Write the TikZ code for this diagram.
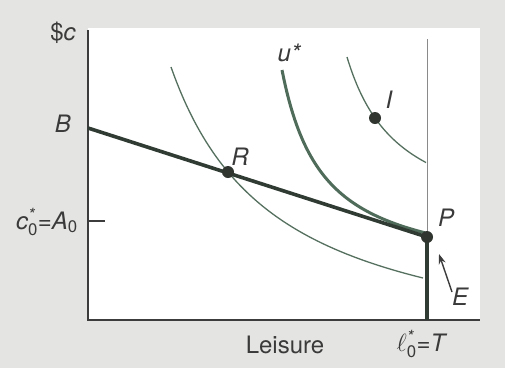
\documentclass[tikz,border=0pt]{standalone}
\usepackage{amsmath}
\usepackage{fontspec}
\setmainfont{TeX Gyre Heros}
\usetikzlibrary{arrows.meta}
\definecolor{bgc}{HTML}{E4E4E2}
\definecolor{axisc}{HTML}{3C3C3C}
\definecolor{budgetc}{HTML}{2F3B33}
\definecolor{ustarc}{HTML}{4F6B59}
\definecolor{curvec}{HTML}{55705F}
\definecolor{vlinec}{HTML}{8A8A8A}
\definecolor{txtc}{HTML}{3A3A3A}
\definecolor{dotc}{HTML}{303530}
\begin{document}
\begin{tikzpicture}[x=1pt,y=-1pt,
  lbl/.style={text=txtc, font=\fontsize{24}{26}\selectfont\itshape, inner sep=0pt},
  uplbl/.style={text=txtc, font=\fontsize{24}{26}\selectfont, inner sep=0pt},
  dotnode/.style={circle, fill=dotc, minimum size=12pt, inner sep=0pt},
  axisline/.style={draw=axisc, line width=2.8pt},
  thincurve/.style={draw=curvec, line width=1.3pt},
  ucurve/.style={draw=ustarc, line width=3pt},
  budget/.style={draw=budgetc, line width=3.6pt}]
\useasboundingbox (0,0) rectangle (505,368);
\fill[bgc] (0,0) rectangle (505,368);
\fill[white] (88,28) rectangle (480,320);
% coordinates
\coordinate (Ytop) at (88,30);
\coordinate (O) at (88,320);
\coordinate (Xend) at (480,320);
\coordinate (A0) at (88,221);
\coordinate (A0t) at (105,221);
\coordinate (B) at (88,128);
\coordinate (P) at (427,237);
\coordinate (Ttop) at (427,39);
\coordinate (T) at (427,320);
\coordinate (Etail) at (452,292);
\coordinate (Ehead) at (439,254);
% vertical thin line
\draw[draw=vlinec, line width=1pt] (Ttop) -- (P);
% indifference curves
\draw[thincurve] plot[domain=171:423, samples=80] (\x, {366.33 - 315.78/((\x-65.5)/100)});
\draw[ucurve] plot[domain=282:425, samples=80] (\x, {368 - 88.3 - 8640/(\x-240.8)});
\draw[thincurve] plot[domain=347:426, samples=60] (\x, {368 - 134.8 - 9321/(\x-294.1)});
% axes
\draw[axisline] (Ytop) -- (O) -- (Xend);
\draw[draw=axisc, line width=1.5pt] (A0) -- (A0t);
% budget
\draw[budget] (B) -- (P) -- (T);
% dots
\node[dotnode] (Rdot) at (228,172) {};
\node[dotnode] (Pdot) at (P) {};
\node[dotnode] (Idot) at (375,118) {};
% arrow
\draw[draw=axisc, line width=1.4pt, -{Stealth[length=10pt,width=7pt]}] (Etail) -- (Ehead);
% labels
\node[uplbl] (lc) at (63,33) {\$\textit{c}};
\node[lbl] (lB) at (63,124) {B};
\node[lbl, anchor=east] (lA) at (78,222) {\textit{c}$^{\text{\itshape *}}_{\text{\upshape 0}}$=\textit{A}$_{\text{\upshape 0}}$};
\node[lbl] (lR) at (240,157) {R};
\node[lbl] (lu) at (289,53) {u*};
\node[lbl] (lI) at (389,100) {I};
\node[lbl] (lP) at (446,218) {P};
\node[lbl] (lE) at (460,297) {E};
\node[uplbl] (lL) at (285,345) {Leisure};
\node[lbl] (lT) at (421,344) {$\ell^{\text{\itshape *}}_{\text{\upshape 0}}$=T};
\end{tikzpicture}
\end{document}
